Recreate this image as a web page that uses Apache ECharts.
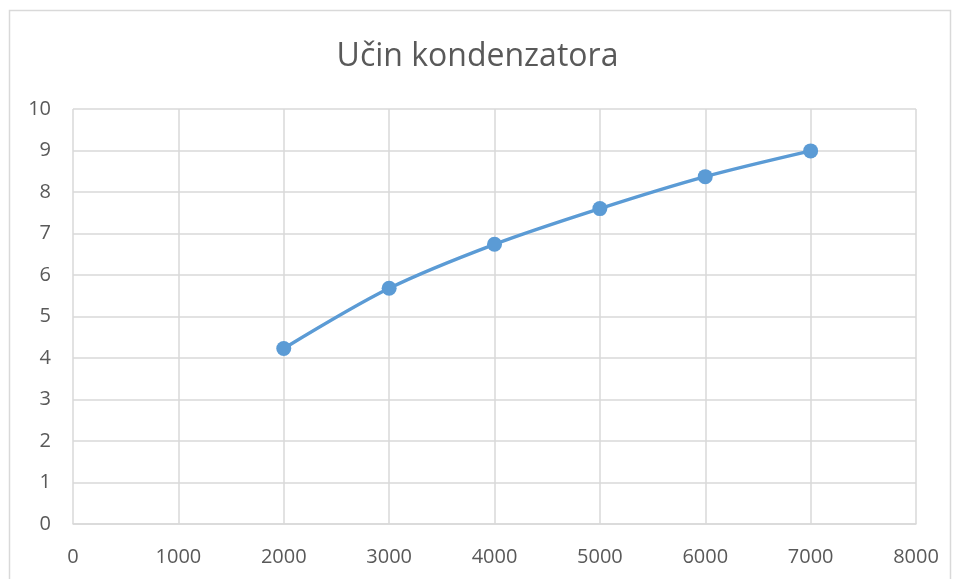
<!DOCTYPE html>
<html>
<head>
<meta charset="utf-8">
<script src="https://cdn.jsdelivr.net/npm/echarts@6/dist/echarts.min.js"></script>
<style>
  html, body { margin: 0; padding: 0; background: #fff; }
  #chart { width: 955px; height: 579px; }
</style>
</head>
<body>
<div id="chart"></div>
<script>
const title = 'Učin kondenzatora'
const xValues = [2000, 3000, 4000, 5000, 6000, 7000]
const yValues = [4.23, 5.68, 6.74, 7.6, 8.37, 8.99]

const gridColor = '#d9d9d9'
const textColor = '#595959'

let chart = echarts.init(document.getElementById('chart'))

chart.setOption({
  animation: false,
  graphic: [{
    type: 'rect',
    shape: { x: 9.5, y: 10.5, width: 941, height: 620 },
    style: { fill: 'none', stroke: gridColor, lineWidth: 1.5 },
    silent: true
  }],
  title: {
    text: title,
    left: 'center',
    top: 36,
    textStyle: { fontFamily: 'Open Sans', fontSize: 32, fontWeight: 'normal', color: textColor }
  },
  grid: { left: 73, right: 39, top: 109, bottom: 55 },
  xAxis: {
    type: 'value',
    min: 0,
    max: 8000,
    interval: 1000,
    axisLine: { show: true, lineStyle: { color: gridColor, width: 1.5 } },
    axisTick: { show: false },
    axisLabel: {
      color: textColor, fontFamily: 'Open Sans', fontSize: 20, margin: 23,
      formatter: v => String(v)
    },
    splitLine: { show: true, lineStyle: { color: gridColor, width: 1.5 } }
  },
  yAxis: {
    type: 'value',
    min: 0,
    max: 10,
    interval: 1,
    axisLine: { show: false },
    axisTick: { show: false },
    axisLabel: { color: textColor, fontFamily: 'Open Sans', fontSize: 20, margin: 22 },
    splitLine: { show: true, lineStyle: { color: gridColor, width: 1.5 } }
  },
  series: [{
    type: 'line',
    data: xValues.map((x, i) => [x, yValues[i]]),
    smooth: 0.3,
    symbol: 'circle',
    symbolSize: 15,
    lineStyle: { color: '#5b9bd5', width: 3.5 },
    itemStyle: { color: '#5b9bd5' }
  }]
})
</script>
</body>
</html>
